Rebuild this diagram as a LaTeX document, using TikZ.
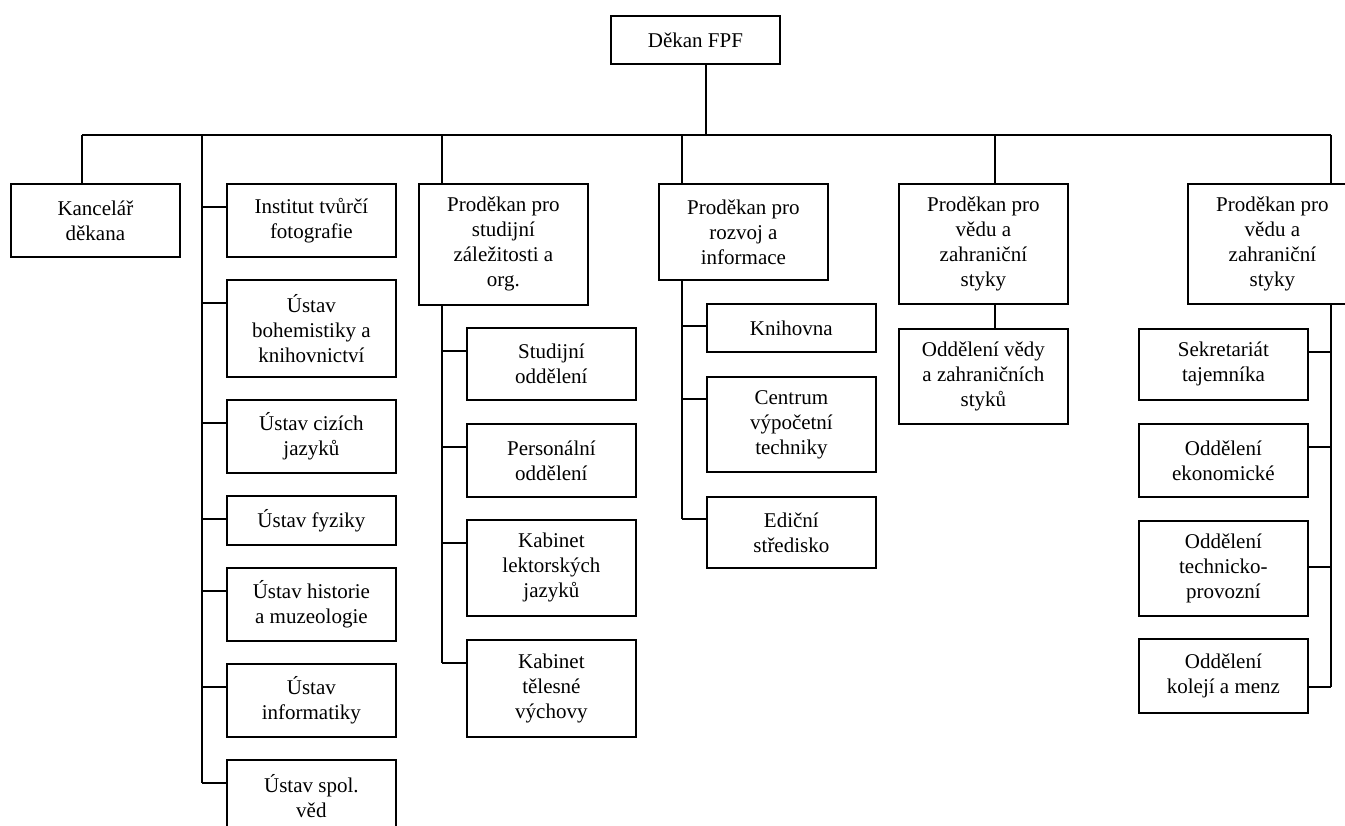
\documentclass[tikz,border=0pt]{standalone}
\usepackage{fontspec}
\setmainfont{Liberation Serif}
\begin{document}
\begin{tikzpicture}[x=1pt,y=-1pt,
  box/.style={draw, line width=1.8pt, anchor=north west, minimum width=169pt,
    inner sep=0pt, align=center, font=\fontsize{21}{25}\selectfont},
  conn/.style={line width=1.8pt}]
\useasboundingbox (0,0) rectangle (1345,826);
\clip (0,0) rectangle (1345,826);
\fill[white] (0,0) rectangle (1345,826);
% top
\node[box, minimum height=48pt] (dekan) at (610,15) {Děkan FPF};
% level 1
\node[box, minimum height=73pt] (kanc) at (10,183) {Kancelář\\děkana};
\node[box, minimum height=73pt] (inst) at (226,183) {Institut tvůrčí\\fotografie};
\node[box, minimum height=97pt] (bohem) at (226,279) {Ústav\\bohemistiky a\\knihovnictví};
\node[box, minimum height=73pt] (cizi) at (226,399) {Ústav cizích\\jazyků};
\node[box, minimum height=49pt] (fyz) at (226,495) {Ústav fyziky};
\node[box, minimum height=73pt] (hist) at (226,567) {Ústav historie\\a muzeologie};
\node[box, minimum height=73pt] (inf) at (226,663) {Ústav\\informatiky};
\node[box, minimum height=73pt] (spol) at (226,759) {Ústav spol.\\věd};
% studijni
\node[box, minimum height=121pt] (pstud) at (418,183) {Proděkan pro\\studijní\\záležitosti a\\org.};
\node[box, minimum height=72pt] (studodd) at (466,327) {Studijní\\oddělení};
\node[box, minimum height=73pt] (pers) at (466,423) {Personální\\oddělení};
\node[box, minimum height=96pt] (kablekt) at (466,519) {Kabinet\\lektorských\\jazyků};
\node[box, minimum height=97pt] (kabtel) at (466,639) {Kabinet\\tělesné\\výchovy};
% rozvoj
\node[box, minimum height=96pt] (proz) at (658,183) {Proděkan pro\\rozvoj a\\informace};
\node[box, minimum height=48pt] (knih) at (706,303) {Knihovna};
\node[box, minimum height=95pt] (cvt) at (706,376) {Centrum\\výpočetní\\techniky};
\node[box, minimum height=71pt] (edic) at (706,496) {Ediční\\středisko};
% veda 1
\node[box, minimum height=120pt] (pved1) at (898,183) {Proděkan pro\\vědu a\\zahraniční\\styky};
\node[box, minimum height=95pt] (oddved) at (898,328) {Oddělení vědy\\a zahraničních\\styků};
% veda 2
\node[box, minimum height=120pt] (pved2) at (1187,183) {Proděkan pro\\vědu a\\zahraniční\\styky};
\node[box, minimum height=71pt] (sekr) at (1138,328) {Sekretariát\\tajemníka};
\node[box, minimum height=73pt] (ekon) at (1138,423) {Oddělení\\ekonomické};
\node[box, minimum height=95pt] (tech) at (1138,520) {Oddělení\\technicko-\\provozní};
\node[box, minimum height=74pt] (kolej) at (1138,638) {Oddělení\\kolejí a menz};
% bus
\coordinate (bd) at (706,135);
\coordinate (b1) at (82,135);
\coordinate (b2) at (202,135);
\coordinate (b3) at (442,135);
\coordinate (b4) at (682,135);
\coordinate (b5) at (995,135);
\coordinate (b6) at (1331,135);
\draw[conn] (bd |- dekan.south) -- (bd);
\draw[conn] (b1) -- (b6);
\draw[conn] (b1) -- (b1 |- kanc.north);
\draw[conn] (b3) -- (b3 |- pstud.north);
\draw[conn] (b4) -- (b4 |- proz.north);
\draw[conn] (b5) -- (b5 |- pved1.north);
\draw[conn] (b6) -- (b6 |- pved2.north);
% left trunk
\foreach \n in {inst,bohem,cizi,fyz,hist,inf,spol}
  \coordinate (\n-c) at ([yshift=-24pt]\n.north west);
\draw[conn] (b2) -- (b2 |- spol-c);
\foreach \n in {inst,bohem,cizi,fyz,hist,inf,spol}
  \draw[conn] (b2 |- \n-c) -- (\n-c);
% studijni trunk
\foreach \n in {studodd,pers,kablekt,kabtel}
  \coordinate (\n-c) at ([yshift=-24pt]\n.north west);
\draw[conn] (b3 |- pstud.south) -- (b3 |- kabtel-c);
\foreach \n in {studodd,pers,kablekt,kabtel}
  \draw[conn] (b3 |- \n-c) -- (\n-c);
% rozvoj trunk
\foreach \n in {knih,cvt,edic}
  \coordinate (\n-c) at ([yshift=-23pt]\n.north west);
\draw[conn] (b4 |- proz.south) -- (b4 |- edic-c);
\foreach \n in {knih,cvt,edic}
  \draw[conn] (b4 |- \n-c) -- (\n-c);
% veda 1
\draw[conn] (b5 |- pved1.south) -- (b5 |- oddved.north);
% veda 2 trunk
\coordinate (sekr-c) at ([yshift=-24pt]sekr.north east);
\coordinate (ekon-c) at ([yshift=-24pt]ekon.north east);
\coordinate (tech-c) at ([yshift=-47pt]tech.north east);
\coordinate (kolej-c) at ([yshift=-49pt]kolej.north east);
\draw[conn] (b6 |- pved2.south) -- (b6 |- kolej-c);
\foreach \n in {sekr,ekon,tech,kolej}
  \draw[conn] (\n-c) -- (b6 |- \n-c);
\end{tikzpicture}
\end{document}
